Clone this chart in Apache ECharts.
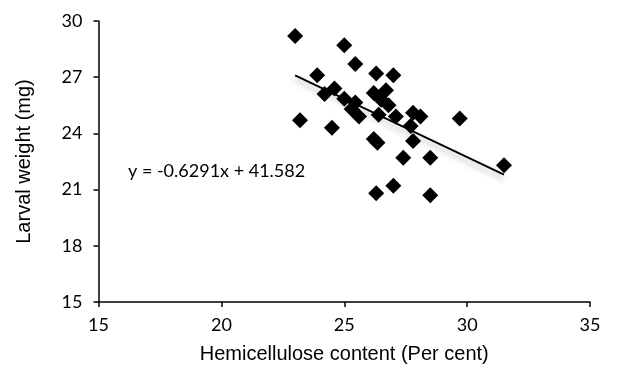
<!DOCTYPE html>
<html><head><meta charset="utf-8">
<script src="https://cdn.jsdelivr.net/npm/echarts@6/dist/echarts.min.js"></script>
<style>html,body{margin:0;padding:0;background:#fff}#c{width:628px;height:379px}</style>
</head><body><div id="c"></div>
<script>
var hemicellulose = [23.0,25.0,25.45,23.9,26.3,27.0,24.6,24.2,25.0,25.45,25.3,25.6,26.2,26.7,26.5,26.8,26.4,27.1,23.2,24.5,27.8,28.1,29.7,27.7,27.8,26.2,26.35,27.4,28.5,27.0,26.3,28.5,31.5];
var larvalWeight = [29.2,28.7,27.7,27.1,27.2,27.1,26.4,26.1,25.85,25.65,25.3,24.9,26.15,26.3,25.8,25.5,25.0,24.9,24.7,24.3,25.1,24.9,24.8,24.4,23.6,23.7,23.5,22.7,22.7,21.2,20.8,20.7,22.3];
var trendX = [23.0, 31.5];
var trendY = [27.1, 21.8];
var xTicks = [15,20,25,30,35];
var yTicks = [15,18,21,24,27,30];
var equationText = 'y = -0.6291x + 41.582';

var pts = hemicellulose.map(function(x,i){return [x, larvalWeight[i]];});
var trend = trendX.map(function(x,i){return [x, trendY[i]];});
var chart = echarts.init(document.getElementById('c'), null, {renderer:'canvas'});
var numFont = 'Lato, "Open Sans", sans-serif';
chart.setOption({
  animation:false,
  grid:{left:98.5, right:38, top:21, bottom:77},
  xAxis:{type:'value', min:xTicks[0], max:xTicks[xTicks.length-1], interval:5,
    name:'Hemicellulose content (Per cent)', nameLocation:'middle', nameGap:42,
    nameTextStyle:{fontFamily:'"Liberation Sans", Arial', fontSize:20, color:'#000'},
    axisLine:{lineStyle:{color:'#000', width:1.5}},
    axisTick:{show:true, inside:false, length:5, lineStyle:{color:'#000', width:1.5}},
    axisLabel:{fontFamily:numFont, fontSize:18, color:'#000', margin:14},
    splitLine:{show:false}},
  yAxis:{type:'value', min:yTicks[0], max:yTicks[yTicks.length-1], interval:3,
    name:'Larval weight (mg)', nameLocation:'middle', nameGap:64,
    nameTextStyle:{fontFamily:'"Liberation Sans", Arial', fontSize:20, color:'#000'},
    axisLine:{show:true, lineStyle:{color:'#000', width:1.5}},
    axisTick:{show:true, inside:false, length:5, lineStyle:{color:'#000', width:1.5}},
    axisLabel:{fontFamily:numFont, fontSize:18, color:'#000', margin:16},
    splitLine:{show:false}},
  series:[
    {type:'scatter', data:pts, symbol:'diamond', symbolSize:16, itemStyle:{color:'#000', opacity:1}, z:3},
    {type:'line', data:trend, symbol:'none', z:4,
      lineStyle:{color:'#000', width:1.8, shadowColor:'rgba(0,0,0,0.35)', shadowBlur:6, shadowOffsetY:4}}
  ],
  graphic:[{type:'text', left:128, top:162, style:{text:equationText, font:'18px ' + numFont, fill:'#000'}}]
});
</script></body></html>
